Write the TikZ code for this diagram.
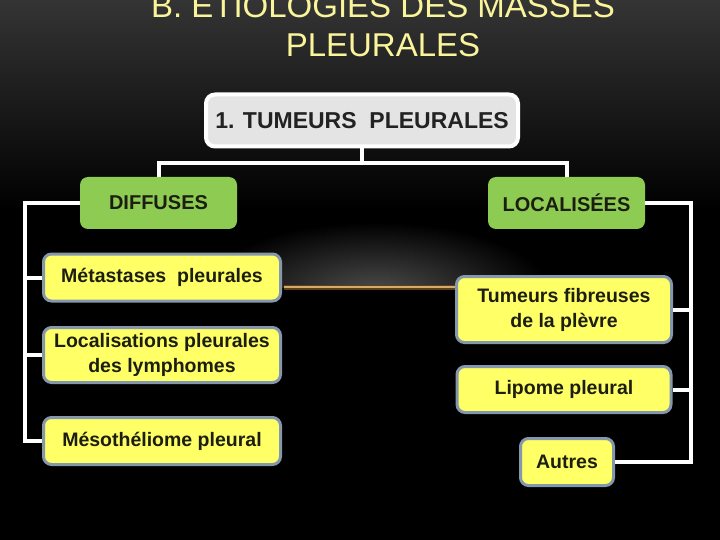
\documentclass[tikz,border=0pt]{standalone}
\usepackage{fontspec}
\setmainfont{Liberation Sans}
\begin{document}
\begin{tikzpicture}[x=1pt,y=-1pt,
  conn/.style={draw=white,line width=4pt},
  greenbox/.style={fill=boxgreen,rounded corners=8pt,text=boxtext,font=\fontsize{20}{24}\selectfont\bfseries,inner sep=0pt},
  yelbox/.style={fill=boxyellow,draw=boxborder,line width=3pt,rounded corners=8pt,text=boxtext,font=\fontsize{19.5}{25}\selectfont\bfseries,align=center,inner sep=0pt},
  topbox/.style={fill=boxgray,draw=white,line width=4pt,rounded corners=9pt,text=toptext,font=\fontsize{23}{27}\selectfont\bfseries,inner sep=0pt}]
\definecolor{boxgreen}{HTML}{8DCB52}
\definecolor{boxyellow}{HTML}{FFFF66}
\definecolor{boxborder}{HTML}{8597AC}
\definecolor{boxgray}{HTML}{E4E4E4}
\definecolor{boxtext}{HTML}{1C1E10}
\definecolor{toptext}{HTML}{222222}
\definecolor{titlecol}{HTML}{FAF59A}
\definecolor{bgtop}{HTML}{343434}
\definecolor{glowcol}{HTML}{4C4C4C}
\definecolor{orangeline}{HTML}{D6AA68}
\definecolor{orangeglow}{HTML}{5A3F1C}
\useasboundingbox (0,0) rectangle (720,540);
% background
\fill[black] (0,0) rectangle (720,540);
\shade[top color=bgtop,bottom color=black] (0,0) rectangle (720,210);
% glow above the orange line
\begin{scope}
  \clip (200,200) rectangle (540,287);
  \shade[inner color=glowcol,outer color=black] (375,292) ellipse [x radius=175, y radius=70];
\end{scope}
\draw[orangeglow,line width=5pt] (284,287) -- (458,287);
\draw[orangeline,line width=2pt] (284,287) -- (458,287);
% title
\node[text=titlecol,font=\fontsize{33}{39}\selectfont,align=center,anchor=base] (title) at (383,57)
  {B. ETIOLOGIES DES MASSES\\PLEURALES};
% nodes
\node[topbox,minimum width=312pt,minimum height=52pt] (top) at (362,120.5) {1. TUMEURS\ \ PLEURALES};
\node[greenbox,minimum width=157pt,minimum height=52pt] (diff) at (158.5,203) {DIFFUSES};
\node[greenbox,minimum width=157pt,minimum height=52pt] (loc) at (566.5,203) {LOCALISÉES};
\coordinate (bus) at (362,163);
\coordinate (spL) at (25,0);
\coordinate (spR) at (691,0);
\node[yelbox,minimum width=237pt,minimum height=47pt] (met) at (162,277.5) {Métastases\ \ pleurales};
\node[yelbox,minimum width=237pt,minimum height=55pt] (lymph) at (162,355) {Localisations pleurales\\des lymphomes};
\node[yelbox,minimum width=237pt,minimum height=47pt] (meso) at (162,441) {Mésothéliome pleural};
\node[yelbox,minimum width=215pt,minimum height=66pt] (fib) at (564,309.5) {Tumeurs fibreuses\\de la plèvre};
\node[yelbox,minimum width=214pt,minimum height=46pt] (lip) at (564,389.5) {Lipome pleural};
\node[yelbox,minimum width=93pt,minimum height=47pt] (aut) at (567,462) {Autres};
% connectors
\draw[conn] (top.south) -- (bus);
\draw[conn] (diff.north) |- (bus) -| (loc.north);
\draw[conn] (diff.west) -- (diff.west -| spL) -- (meso.west -| spL) -- (meso.west);
\draw[conn] (met.west -| spL) -- (met.west);
\draw[conn] (lymph.west -| spL) -- (lymph.west);
\draw[conn] (loc.east) -- (loc.east -| spR) -- (aut.east -| spR) -- (aut.east);
\draw[conn] (fib.east -| spR) -- (fib.east);
\draw[conn] (lip.east -| spR) -- (lip.east);
\end{tikzpicture}
\end{document}
